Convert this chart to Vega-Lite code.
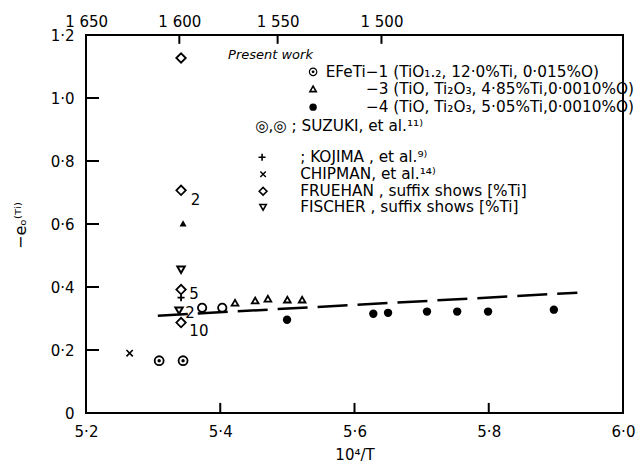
{
  "$schema": "https://vega.github.io/schema/vega-lite/v6.json",
  "width": 537,
  "height": 378,
  "autosize": {"type": "none"},
  "padding": {"left": 86, "top": 35, "right": 17, "bottom": 58},
  "background": "white",
  "config": {
    "view": {"stroke": "black", "strokeWidth": 2},
    "font": "DejaVu Sans",
    "point": {"opacity": 1},
    "axis": {"domain": false, "grid": false, "ticks": false, "labelFont": "DejaVu Sans", "labelFontSize": 15, "labelColor": "black", "titleFont": "DejaVu Sans", "titleColor": "black", "titleFontWeight": "normal"}
  },
  "datasets": {
    "pts": [
      {"x": 5.373, "y": 0.334, "s": "EFeTi-1"},
      {"x": 5.403, "y": 0.334, "s": "EFeTi-1"},
      {"x": 5.422, "y": 0.350, "s": "EFeTi-3"},
      {"x": 5.452, "y": 0.357, "s": "EFeTi-3"},
      {"x": 5.471, "y": 0.363, "s": "EFeTi-3"},
      {"x": 5.500, "y": 0.360, "s": "EFeTi-3"},
      {"x": 5.522, "y": 0.360, "s": "EFeTi-3"},
      {"x": 5.4995, "y": 0.296, "s": "EFeTi-4"},
      {"x": 5.628, "y": 0.315, "s": "EFeTi-4"},
      {"x": 5.650, "y": 0.318, "s": "EFeTi-4"},
      {"x": 5.708, "y": 0.322, "s": "EFeTi-4"},
      {"x": 5.753, "y": 0.322, "s": "EFeTi-4"},
      {"x": 5.799, "y": 0.322, "s": "EFeTi-4"},
      {"x": 5.897, "y": 0.328, "s": "EFeTi-4"},
      {"x": 5.309, "y": 0.166, "s": "Suzuki"},
      {"x": 5.3446, "y": 0.166, "s": "Suzuki"},
      {"x": 5.265, "y": 0.190, "s": "Chipman"},
      {"x": 5.3416, "y": 0.366, "s": "Kojima"},
      {"x": 5.3416, "y": 1.127, "s": "Fruehan"},
      {"x": 5.3416, "y": 0.707, "s": "Fruehan"},
      {"x": 5.3416, "y": 0.392, "s": "Fruehan"},
      {"x": 5.3416, "y": 0.287, "s": "Fruehan"},
      {"x": 5.3416, "y": 0.455, "s": "Fischer"},
      {"x": 5.3386, "y": 0.325, "s": "Fischer"},
      {"x": 5.3446, "y": 0.602, "s": "Other"}
    ],
    "legsym": [
      {"x": 5.5383, "y": 1.083, "s": "EFeTi-1"},
      {"x": 5.5383, "y": 1.029, "s": "EFeTi-3"},
      {"x": 5.5383, "y": 0.971, "s": "EFeTi-4"},
      {"x": 5.4623, "y": 0.812, "s": "Kojima"},
      {"x": 5.4638, "y": 0.758, "s": "Chipman"},
      {"x": 5.4638, "y": 0.704, "s": "Fruehan"},
      {"x": 5.4638, "y": 0.653, "s": "Fischer"}
    ],
    "fit": [
      {"x": 5.307, "y": 0.309},
      {"x": 5.932, "y": 0.382}
    ],
    "ticks": [
      {"side": "bottom", "v": 5.4},
      {"side": "bottom", "v": 5.6},
      {"side": "bottom", "v": 5.8},
      {"side": "top", "v": 5.33903},
      {"side": "top", "v": 5.48546},
      {"side": "top", "v": 5.64016},
      {"side": "left", "v": 0.2},
      {"side": "left", "v": 0.4},
      {"side": "left", "v": 0.6},
      {"side": "left", "v": 0.8},
      {"side": "left", "v": 1.0}
    ],
    "suffix": [
      {"x": 5.356, "y": 0.675, "t": "2"},
      {"x": 5.354, "y": 0.379, "t": "5"},
      {"x": 5.348, "y": 0.318, "t": "2"},
      {"x": 5.354, "y": 0.261, "t": "10"}
    ],
    "legtext": [
      {"x": 5.4116, "y": 1.137, "t": "Present work", "k": "it"},
      {"x": 5.557, "y": 1.083, "t": "EFeTi−1 (TiO₁.₂, 12·0%Ti, 0·015%O)", "k": "n"},
      {"x": 5.617, "y": 1.029, "t": "−3 (TiO, Ti₂O₃, 4·85%Ti,0·0010%O)", "k": "n"},
      {"x": 5.617, "y": 0.971, "t": "−4 (TiO, Ti₂O₃, 5·05%Ti,0·0010%O)", "k": "n"},
      {"x": 5.452, "y": 0.911, "t": "◎,◎ ; SUZUKI, et al.¹¹⁾", "k": "n"},
      {"x": 5.519, "y": 0.812, "t": "; KOJIMA , et al.⁹⁾", "k": "n"},
      {"x": 5.519, "y": 0.758, "t": "CHIPMAN, et al.¹⁴⁾", "k": "n"},
      {"x": 5.519, "y": 0.704, "t": "FRUEHAN , suffix shows [%Ti]", "k": "n"},
      {"x": 5.519, "y": 0.653, "t": "FISCHER , suffix shows [%Ti]", "k": "n"}
    ]
  },
  "resolve": {"axis": {"x": "independent"}},
  "layer": [
    {
      "data": {"name": "fit"},
      "mark": {"type": "line", "color": "black", "strokeWidth": 2.5, "strokeDash": [30, 10]},
      "encoding": {
        "x": {
          "field": "x", "type": "quantitative",
          "scale": {"domain": [5.2, 6.0], "nice": false, "zero": false},
          "axis": {
            "orient": "bottom", "title": "10⁴/T", "titleFontSize": 15, "titlePadding": 8,
            "values": [5.2, 5.4, 5.6, 5.8, 6.0],
            "labelExpr": "replace(format(datum.value, '.1f'), '.', '·')",
            "labelPadding": 11, "labelFlush": false
          }
        },
        "y": {
          "field": "y", "type": "quantitative",
          "scale": {"domain": [0, 1.2], "nice": false},
          "axis": {
            "orient": "left",
            "title": "−eₒ⁽ᵀⁱ⁾", "titleFontSize": 16, "titleAngle": -90, "titleX": -66, "titleY": 190, "titleBaseline": "middle", "titleAlign": "center",
            "values": [0, 0.2, 0.4, 0.6, 0.8, 1.0, 1.2],
            "labelExpr": "datum.value == 0 ? '0' : replace(format(datum.value, '.1f'), '.', '·')",
            "labelPadding": 12, "labelFlush": false
          }
        }
      }
    },
    {
      "data": {"name": "pts"},
      "transform": [{"filter": "datum.s == 'Fruehan'"}],
      "mark": {"type": "point", "shape": "diamond", "filled": false, "color": "black", "strokeWidth": 1.8, "size": 90},
      "encoding": {
        "x": {
          "field": "x", "type": "quantitative",
          "axis": {
            "orient": "top", "title": null,
            "values": [5.20021, 5.33903, 5.48546, 5.64016],
            "labelExpr": "datum.value < 5.3 ? '1 650' : datum.value < 5.4 ? '1 600' : datum.value < 5.55 ? '1 550' : '1 500'",
            "labelPadding": 6, "labelFlush": false
          }
        },
        "y": {"field": "y", "type": "quantitative"}
      }
    },
    {
      "data": {"name": "ticks"},
      "transform": [{"filter": "datum.side == 'bottom'"}],
      "mark": {"type": "rule", "color": "black", "strokeWidth": 2, "opacity": 1},
      "encoding": {"x": {"field": "v", "type": "quantitative", "axis": null}, "y": {"datum": 0, "type": "quantitative"}, "y2": {"datum": 0.032}}
    },
    {
      "data": {"name": "ticks"},
      "transform": [{"filter": "datum.side == 'top'"}],
      "mark": {"type": "rule", "color": "black", "strokeWidth": 2, "opacity": 1},
      "encoding": {"x": {"field": "v", "type": "quantitative", "axis": null}, "y": {"datum": 1.2, "type": "quantitative"}, "y2": {"datum": 1.172}}
    },
    {
      "data": {"name": "ticks"},
      "transform": [{"filter": "datum.side == 'left'"}],
      "mark": {"type": "rule", "color": "black", "strokeWidth": 2, "opacity": 1},
      "encoding": {"x": {"datum": 5.2, "type": "quantitative", "axis": null}, "x2": {"datum": 5.2194}, "y": {"field": "v", "type": "quantitative"}}
    },
    {
      "data": {"name": "pts"},
      "transform": [{"filter": "datum.s == 'EFeTi-1'"}],
      "mark": {"type": "point", "shape": "circle", "filled": false, "color": "black", "strokeWidth": 1.8, "size": 70},
      "encoding": {"x": {"field": "x", "type": "quantitative", "axis": null}, "y": {"field": "y", "type": "quantitative"}}
    },
    {
      "data": {"name": "pts"},
      "transform": [{"filter": "datum.s == 'EFeTi-3'"}],
      "mark": {"type": "point", "shape": "triangle-up", "filled": false, "color": "black", "strokeWidth": 1.8, "size": 45},
      "encoding": {"x": {"field": "x", "type": "quantitative", "axis": null}, "y": {"field": "y", "type": "quantitative"}}
    },
    {
      "data": {"name": "pts"},
      "transform": [{"filter": "datum.s == 'EFeTi-4'"}],
      "mark": {"type": "point", "shape": "circle", "filled": true, "color": "black", "size": 70},
      "encoding": {"x": {"field": "x", "type": "quantitative", "axis": null}, "y": {"field": "y", "type": "quantitative"}}
    },
    {
      "data": {"name": "pts"},
      "transform": [{"filter": "datum.s == 'Suzuki'"}],
      "mark": {"type": "point", "shape": "circle", "filled": false, "color": "black", "strokeWidth": 1.8, "size": 80},
      "encoding": {"x": {"field": "x", "type": "quantitative", "axis": null}, "y": {"field": "y", "type": "quantitative"}}
    },
    {
      "data": {"name": "pts"},
      "transform": [{"filter": "datum.s == 'Suzuki'"}],
      "mark": {"type": "point", "shape": "circle", "filled": true, "color": "black", "size": 12},
      "encoding": {"x": {"field": "x", "type": "quantitative", "axis": null}, "y": {"field": "y", "type": "quantitative"}}
    },
    {
      "data": {"name": "pts"},
      "transform": [{"filter": "datum.s == 'Chipman'"}],
      "mark": {"type": "point", "shape": "M-1,-1L1,1M-1,1L1,-1", "filled": false, "color": "black", "strokeWidth": 1.6, "size": 40},
      "encoding": {"x": {"field": "x", "type": "quantitative", "axis": null}, "y": {"field": "y", "type": "quantitative"}}
    },
    {
      "data": {"name": "pts"},
      "transform": [{"filter": "datum.s == 'Kojima'"}],
      "mark": {"type": "point", "shape": "M-1,0L1,0M0,-1L0,1", "filled": false, "color": "black", "strokeWidth": 1.8, "size": 50},
      "encoding": {"x": {"field": "x", "type": "quantitative", "axis": null}, "y": {"field": "y", "type": "quantitative"}}
    },
    {
      "data": {"name": "pts"},
      "transform": [{"filter": "datum.s == 'Fischer'"}],
      "mark": {"type": "point", "shape": "triangle-down", "filled": false, "color": "black", "strokeWidth": 2, "size": 55},
      "encoding": {"x": {"field": "x", "type": "quantitative", "axis": null}, "y": {"field": "y", "type": "quantitative"}}
    },
    {
      "data": {"name": "pts"},
      "transform": [{"filter": "datum.s == 'Other'"}],
      "mark": {"type": "point", "shape": "triangle-up", "filled": true, "color": "black", "size": 50},
      "encoding": {"x": {"field": "x", "type": "quantitative", "axis": null}, "y": {"field": "y", "type": "quantitative"}}
    },
    {
      "data": {"name": "legsym"},
      "transform": [{"filter": "datum.s == 'EFeTi-1'"}],
      "mark": {"type": "point", "shape": "circle", "filled": false, "color": "black", "strokeWidth": 1.2, "size": 55},
      "encoding": {"x": {"field": "x", "type": "quantitative", "axis": null}, "y": {"field": "y", "type": "quantitative"}}
    },
    {
      "data": {"name": "legsym"},
      "transform": [{"filter": "datum.s == 'EFeTi-1'"}],
      "mark": {"type": "point", "shape": "circle", "filled": true, "color": "black", "size": 8},
      "encoding": {"x": {"field": "x", "type": "quantitative", "axis": null}, "y": {"field": "y", "type": "quantitative"}}
    },
    {
      "data": {"name": "legsym"},
      "transform": [{"filter": "datum.s == 'EFeTi-3'"}],
      "mark": {"type": "point", "shape": "triangle-up", "filled": false, "color": "black", "strokeWidth": 1.6, "size": 40},
      "encoding": {"x": {"field": "x", "type": "quantitative", "axis": null}, "y": {"field": "y", "type": "quantitative"}}
    },
    {
      "data": {"name": "legsym"},
      "transform": [{"filter": "datum.s == 'EFeTi-4'"}],
      "mark": {"type": "point", "shape": "circle", "filled": true, "color": "black", "size": 55},
      "encoding": {"x": {"field": "x", "type": "quantitative", "axis": null}, "y": {"field": "y", "type": "quantitative"}}
    },
    {
      "data": {"name": "legsym"},
      "transform": [{"filter": "datum.s == 'Kojima'"}],
      "mark": {"type": "point", "shape": "M-1,0L1,0M0,-1L0,1", "filled": false, "color": "black", "strokeWidth": 1.6, "size": 50},
      "encoding": {"x": {"field": "x", "type": "quantitative", "axis": null}, "y": {"field": "y", "type": "quantitative"}}
    },
    {
      "data": {"name": "legsym"},
      "transform": [{"filter": "datum.s == 'Chipman'"}],
      "mark": {"type": "point", "shape": "M-1,-1L1,1M-1,1L1,-1", "filled": false, "color": "black", "strokeWidth": 1.4, "size": 30},
      "encoding": {"x": {"field": "x", "type": "quantitative", "axis": null}, "y": {"field": "y", "type": "quantitative"}}
    },
    {
      "data": {"name": "legsym"},
      "transform": [{"filter": "datum.s == 'Fruehan'"}],
      "mark": {"type": "point", "shape": "diamond", "filled": false, "color": "black", "strokeWidth": 1.6, "size": 60},
      "encoding": {"x": {"field": "x", "type": "quantitative", "axis": null}, "y": {"field": "y", "type": "quantitative"}}
    },
    {
      "data": {"name": "legsym"},
      "transform": [{"filter": "datum.s == 'Fischer'"}],
      "mark": {"type": "point", "shape": "triangle-down", "filled": false, "color": "black", "strokeWidth": 1.6, "size": 40},
      "encoding": {"x": {"field": "x", "type": "quantitative", "axis": null}, "y": {"field": "y", "type": "quantitative"}}
    },
    {
      "data": {"name": "suffix"},
      "mark": {"type": "text", "align": "left", "baseline": "middle", "fontSize": 15, "color": "black", "font": "DejaVu Sans"},
      "encoding": {"x": {"field": "x", "type": "quantitative", "axis": null}, "y": {"field": "y", "type": "quantitative"}, "text": {"field": "t"}}
    },
    {
      "data": {"name": "legtext"},
      "transform": [{"filter": "datum.k == 'n'"}],
      "mark": {"type": "text", "align": "left", "baseline": "middle", "fontSize": 15.3, "color": "black", "font": "DejaVu Sans"},
      "encoding": {"x": {"field": "x", "type": "quantitative", "axis": null}, "y": {"field": "y", "type": "quantitative"}, "text": {"field": "t"}}
    },
    {
      "data": {"name": "legtext"},
      "transform": [{"filter": "datum.k == 'it'"}],
      "mark": {"type": "text", "align": "left", "baseline": "middle", "fontSize": 13, "fontStyle": "italic", "color": "black", "font": "DejaVu Sans"},
      "encoding": {"x": {"field": "x", "type": "quantitative", "axis": null}, "y": {"field": "y", "type": "quantitative"}, "text": {"field": "t"}}
    }
  ]
}
